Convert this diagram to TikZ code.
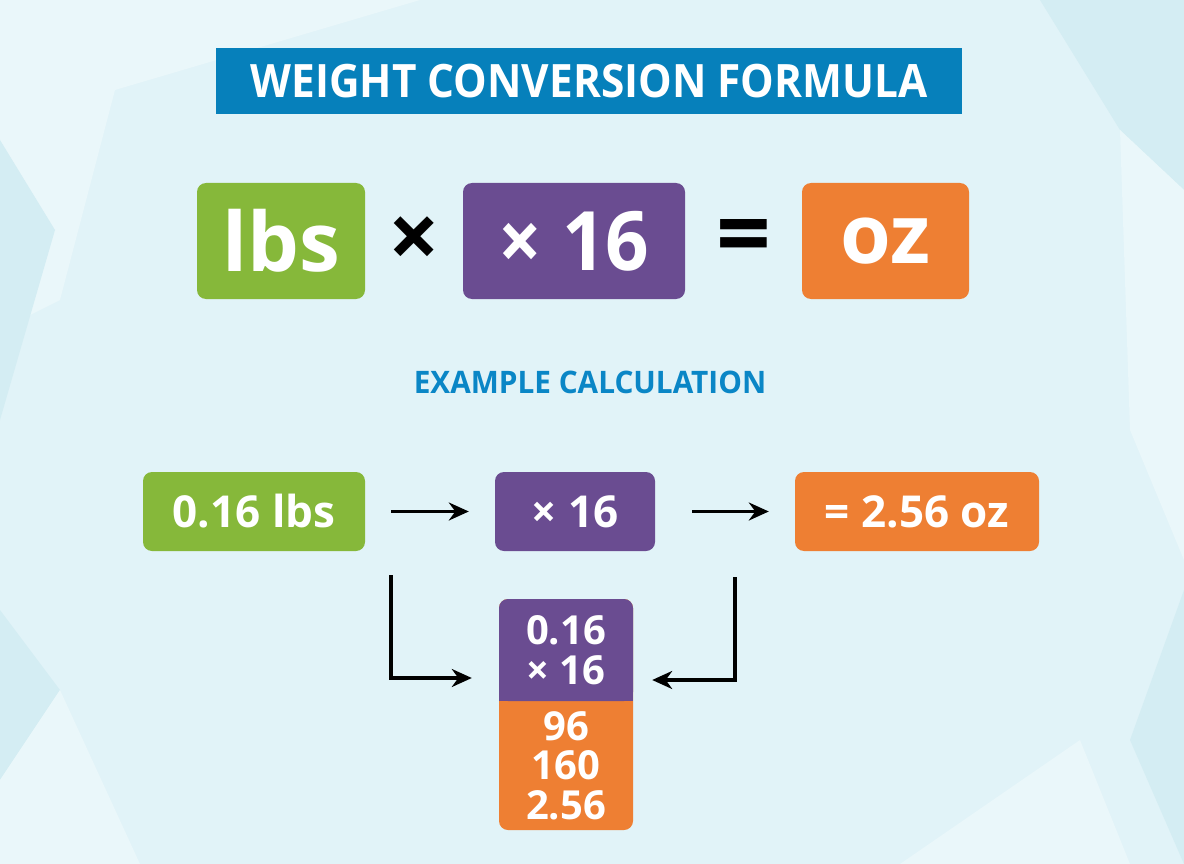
\documentclass[tikz,border=0pt]{standalone}
\usepackage{fontspec}
\setmainfont{Open Sans}
\usetikzlibrary{arrows.meta}
\definecolor{bg}{HTML}{E1F3F8}
\definecolor{bgdark}{HTML}{D4EDF3}
\definecolor{bglight}{HTML}{EAF7FA}
\definecolor{titleblue}{HTML}{0680BB}
\definecolor{subblue}{HTML}{0A86C6}
\definecolor{grn}{HTML}{86B83A}
\definecolor{purp}{HTML}{6A4C91}
\definecolor{orng}{HTML}{EE7F33}
\tikzset{
  box/.style={rounded corners=9pt, inner sep=0pt, text=white, font=\bfseries},
  bigtxt/.style={font=\fontsize{82}{90}\selectfont\bfseries},
  midtxt/.style={font=\fontsize{44}{50}\selectfont\bfseries},
  conn/.style={line width=3.2pt, -{Stealth[length=20pt,width=18pt]}},
  elbow/.style={line width=3.2pt, -{Stealth[length=20pt,width=18pt]}}
}
\begin{document}
\begin{tikzpicture}[x=1pt,y=-1pt]
\useasboundingbox (0,0) rectangle (1184,864);
% background
\fill[bg] (0,0) rectangle (1184,864);
\fill[bglight] (0,0) -- (420,0) -- (115,90) -- (60,300) -- (0,330) -- cycle;
\fill[bgdark] (0,140) -- (55,230) -- (0,420) -- cycle;
\fill[bgdark] (0,610) -- (60,690) -- (0,780) -- cycle;
\fill[bglight] (0,780) -- (60,690) -- (140,864) -- (0,864) -- cycle;
\fill[bgdark] (1040,0) -- (1184,0) -- (1184,190) -- (1120,130) -- cycle;
\fill[bglight] (1120,130) -- (1184,190) -- (1184,560) -- (1130,430) -- cycle;
\fill[bgdark] (1184,590) -- (1130,740) -- (1184,864) -- cycle;
\fill[bglight] (900,864) -- (1080,740) -- (1130,864) -- cycle;

% title
\node[fill=titleblue, minimum width=746pt, minimum height=66pt, inner sep=0pt,
      text=white, font=\fontsize{46}{50}\selectfont\bfseries] (title) at (589,81)
      {\scalebox{0.92}[1]{WEIGHT CONVERSION FORMULA}};

% top formula row
\node[box, fill=grn, minimum width=168pt, minimum height=116pt, bigtxt] (lbs) at (281,241) {lbs};
\node[font=\fontsize{90}{90}\selectfont\bfseries, text=black, inner sep=0pt] (times) at (414,243) {×};
\node[box, fill=purp, minimum width=222pt, minimum height=116pt, bigtxt] (mult) at (574,241) {\scalebox{0.93}[1]{× 16}};
\node[font=\fontsize{96}{96}\selectfont\bfseries, text=black, inner sep=0pt] (eq) at (744,243) {=};
\node[box, fill=orng, minimum width=167pt, minimum height=116pt, bigtxt] (oz) at (885.5,241) {oz};

% subtitle
\node[text=subblue, font=\fontsize{31}{34}\selectfont\bfseries] (sub) at (590,382) {\scalebox{0.96}[1]{EXAMPLE CALCULATION}};

% example row
\node[box, fill=grn, minimum width=222pt, minimum height=79pt, midtxt] (ex1) at (254,511.5) {0.16 lbs};
\node[box, fill=purp, minimum width=160pt, minimum height=79pt, midtxt] (ex2) at (575,511.5) {× 16};
\node[box, fill=orng, minimum width=244pt, minimum height=79pt, midtxt] (ex3) at (917,511.5) {= 2.56 oz};

\draw[conn] ([xshift=26pt]ex1.east) -- ([xshift=-26pt]ex2.west);
\draw[conn] ([xshift=37pt]ex2.east) -- ([xshift=-26pt]ex3.west);

% stacked calculation
\fill[orng, rounded corners=9pt] (499,599) rectangle (633,830);
\fill[purp, rounded corners=9pt] (499,599) rectangle (633,701);
\fill[purp] (499,680) rectangle (633,701);
\node[minimum width=134pt, minimum height=102pt, inner sep=0pt, text=white, align=center,
      font=\fontsize{40}{40}\selectfont\bfseries] (calctop) at (566,650) {0.16\\× 16};
\node[minimum width=134pt, minimum height=129pt, inner sep=0pt, text=white, align=center,
      font=\fontsize{40}{39.5}\selectfont\bfseries] (calcbot) at (566,765.5) {96\\160\\2.56};

% elbow connectors
\coordinate (l0) at (391,575);
\coordinate (r0) at (735,577);
\draw[elbow] (l0) |- ([xshift=-27pt, yshift=-28pt]calctop.west);
\draw[elbow] (r0) |- ([xshift=19pt, yshift=-30pt]calctop.east);
\end{tikzpicture}
\end{document}
